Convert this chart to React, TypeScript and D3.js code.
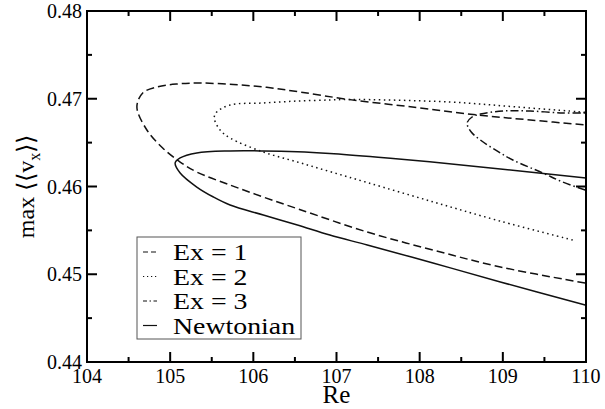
import React from "react";
import * as d3 from "d3";

// ---- data ----
const xTicks = [104, 105, 106, 107, 108, 109, 110];
const yTicks = [0.44, 0.45, 0.46, 0.47, 0.48];
const xMinor = [104.5, 105.5, 106.5, 107.5, 108.5, 109.5];
const yMinor = [0.445, 0.455, 0.465, 0.475];

// each curve: lower branch (from right end) -> turning point -> upper branch
const ex1Re = [109.99, 108.97, 108.16, 107.37, 106.54, 106.12, 105.72, 105.32, 105.12, 104.91, 104.72, 104.6, 104.67, 104.84, 105.08, 105.36, 105.76, 106.16, 106.56, 107.16, 107.97, 108.69, 109.33, 110.0];
const ex1V = [0.449, 0.45083, 0.45276, 0.45481, 0.45744, 0.4588, 0.46017, 0.46165, 0.46279, 0.46439, 0.46644, 0.46906, 0.47066, 0.47134, 0.47168, 0.47179, 0.47162, 0.47130, 0.47077, 0.46990, 0.46900, 0.46815, 0.46758, 0.46701];

const ex2Re = [109.84, 108.97, 108.16, 107.37, 106.92, 106.53, 106.12, 105.72, 105.6, 105.53, 105.56, 105.72, 106.12, 106.53, 106.92, 107.16, 108.36, 109.17, 110.0];
const ex2V = [0.4539, 0.45605, 0.45825, 0.46045, 0.4617, 0.46279, 0.46393, 0.46553, 0.46644, 0.46781, 0.46849, 0.46929, 0.46952, 0.46974, 0.46986, 0.46992, 0.46963, 0.46906, 0.46845];

const ex3Re = [109.99, 109.72, 109.48, 109.12, 108.93, 108.73, 108.62, 108.57, 108.63, 108.73, 109.0, 109.33, 109.72, 110.0];
const ex3V = [0.4596, 0.46051, 0.46154, 0.46302, 0.46405, 0.4653, 0.46621, 0.46724, 0.46792, 0.46826, 0.4686, 0.4686, 0.46838, 0.46838];

const newtRe = [109.99, 108.97, 108.16, 107.37, 106.92, 106.53, 106.12, 105.72, 105.52, 105.32, 105.12, 105.06, 105.12, 105.32, 105.72, 106.12, 106.53, 106.92, 107.5, 108.12, 108.97, 110.0];
const newtV = [0.4465, 0.44912, 0.45128, 0.45333, 0.45447, 0.45561, 0.45675, 0.45789, 0.4588, 0.45994, 0.46154, 0.46268, 0.46325, 0.46382, 0.46405, 0.46405, 0.46395, 0.46375, 0.46333, 0.46282, 0.462, 0.46097];

const seriesNames = ["Ex = 1", "Ex = 2", "Ex = 3", "Newtonian"];
const seriesDash = ["8,4", "1.5,3.5", "8,3,1.5,3", "none"];
const legendDash = ["5,3", "1.2,2.8", "4,2.5,1.5,2.5", "none"];

export default function App() {
  const W = 605, H = 409;
  const L = 87, R = 586, T = 11, B = 362;
  const x = d3.scaleLinear().domain([104, 110]).range([L, R]);
  const y = d3.scaleLinear().domain([0.44, 0.48]).range([B, T]);
  const line = d3
    .line<[number, number]>()
    .x((d) => x(d[0]))
    .y((d) => y(d[1]))
    .curve(d3.curveCatmullRom.alpha(0.5));
  const series = [
    [ex1Re, ex1V],
    [ex2Re, ex2V],
    [ex3Re, ex3V],
    [newtRe, newtV],
  ].map(([r, v]) => r.map((d, i) => [d, v[i]] as [number, number]));

  const font = "'Liberation Serif', 'Times New Roman', serif";
  const legX = 137, legY = 237, legW = 164, legH = 102;

  return (
    <svg width={W} height={H} style={{ position: "absolute", left: 0, top: 0, background: "#fff" }} fontFamily={font}>
      <defs>
        <clipPath id="plot">
          <rect x={L} y={T} width={R - L} height={B - T} />
        </clipPath>
      </defs>
      <g clipPath="url(#plot)">
        {series.map((s, i) => (
          <path key={i} d={line(s) || ""} fill="none" stroke="#111" strokeWidth={1.5}
            strokeDasharray={seriesDash[i] === "none" ? undefined : seriesDash[i]} />
        ))}
      </g>
      {/* ticks */}
      <g stroke="#000" strokeWidth={2}>
        {xTicks.slice(1, -1).map((t) => (
          <g key={"xt" + t}>
            <line x1={x(t)} x2={x(t)} y1={B} y2={B - 10} />
            <line x1={x(t)} x2={x(t)} y1={T} y2={T + 10} />
          </g>
        ))}
        {xMinor.map((t) => (
          <g key={"xm" + t}>
            <line x1={x(t)} x2={x(t)} y1={B} y2={B - 5} />
            <line x1={x(t)} x2={x(t)} y1={T} y2={T + 5} />
          </g>
        ))}
        {yTicks.slice(1, -1).map((t) => (
          <g key={"yt" + t}>
            <line x1={L} x2={L + 10} y1={y(t)} y2={y(t)} />
            <line x1={R} x2={R - 10} y1={y(t)} y2={y(t)} />
          </g>
        ))}
        {yMinor.map((t) => (
          <g key={"ym" + t}>
            <line x1={L} x2={L + 5} y1={y(t)} y2={y(t)} />
            <line x1={R} x2={R - 5} y1={y(t)} y2={y(t)} />
          </g>
        ))}
      </g>
      <rect x={L} y={T} width={R - L} height={B - T} fill="none" stroke="#000" strokeWidth={2} />
      {/* tick labels */}
      {xTicks.map((t) => (
        <text key={"xl" + t} x={x(t)} y={383} textAnchor="middle" fontSize={20}>{t}</text>
      ))}
      {yTicks.map((t) => (
        <text key={"yl" + t} x={82} y={y(t) + 7} textAnchor="end" fontSize={20}>{d3.format(".2f")(t)}</text>
      ))}
      <text x={(L + R) / 2} y={403} textAnchor="middle" fontSize={25}>Re</text>
      <text transform={`translate(34,${(T + B) / 2}) rotate(-90)`} textAnchor="middle" fontSize={24}>
        max ⟨⟨v<tspan fontSize={16} dy={6}>x</tspan><tspan dy={-6}>⟩⟩</tspan>
      </text>
      {/* legend */}
      <rect x={legX} y={legY} width={legW} height={legH} fill="#fff" stroke="#555" strokeWidth={1} />
      {seriesNames.map((n, i) => {
        const cy = 252 + i * 24.5;
        return (
          <g key={n}>
            <line x1={143} x2={157} y1={cy} y2={cy} stroke="#111" strokeWidth={1.2}
              strokeDasharray={legendDash[i] === "none" ? undefined : legendDash[i]} />
            <text transform={`translate(173,${cy + 8}) scale(1.16,1)`} fontSize={24}>{n}</text>
          </g>
        );
      })}
    </svg>
  );
}
